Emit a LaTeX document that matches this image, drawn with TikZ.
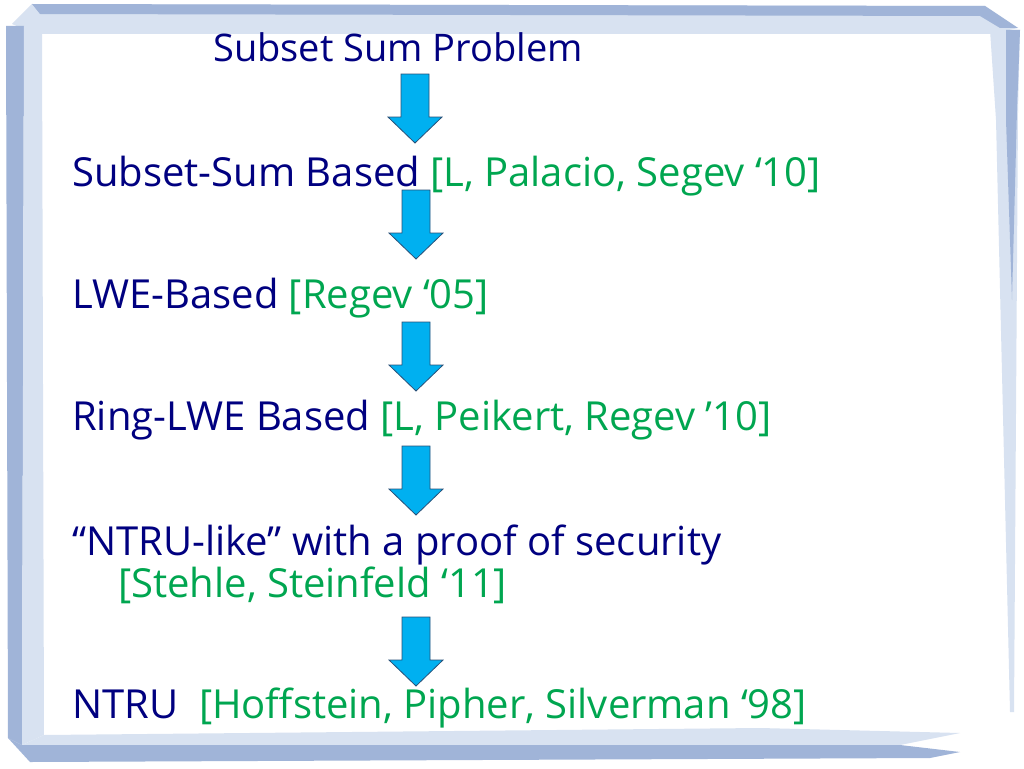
\documentclass[tikz,border=0pt]{standalone}
\usepackage{fontspec}
\setmainfont{Open Sans}
\definecolor{navytext}{RGB}{0,0,128}
\definecolor{citegreen}{RGB}{0,166,80}
\definecolor{arrowfill}{RGB}{0,176,240}
\definecolor{arrowline}{RGB}{40,80,120}
\definecolor{framedark}{RGB}{160,180,216}
\definecolor{framelight}{RGB}{216,226,241}
\tikzset{
  line/.style={anchor=base west, inner sep=0pt, text=navytext, font=\fontsize{40}{46}\selectfont},
  cite/.style={text=citegreen},
  downarrow/.style={fill=arrowfill, draw=arrowline, line width=0.8pt, line join=miter}
}
\newcommand{\blockarrow}[1]{%
  \draw[downarrow] ([xshift=-14pt]#1) -- ([xshift=14pt]#1) -- ([xshift=14pt,yshift=-43pt]#1)
    -- ([xshift=27pt,yshift=-43pt]#1) -- ([yshift=-69pt]#1) -- ([xshift=-27pt,yshift=-43pt]#1)
    -- ([xshift=-14pt,yshift=-43pt]#1) -- cycle;}
\begin{document}
\begin{tikzpicture}[x=1pt,y=-1pt]
\useasboundingbox (0,0) rectangle (1024,768);
\fill[white] (0,0) rectangle (1024,768);

% Hand-drawn frame round the slide
\fill[framelight] (12,24) -- (32,4) -- (985,6) -- (1018,28) -- (990,34) -- (36,34) -- cycle;
\fill[framedark] (32,4) -- (985,6) -- (1018,28) -- (1000,28) -- (980,16) -- (40,14) -- cycle;
\fill[framedark] (6,26) -- (24,26) -- (22,745) -- (8,738) -- cycle;
\fill[framelight] (24,26) -- (42,34) -- (44,735) -- (22,745) -- cycle;
\fill[framelight] (990,30) -- (1020,30) -- (1018,110) -- (1014,712) -- (1010,712) -- (996,120) -- cycle;
\fill[framedark] (1006,30) -- (1020,30) -- (1017,110) -- (1012,300) -- (1006,120) -- cycle;
\fill[framelight] (22,745) -- (44,735) -- (760,728) -- (960,733) -- (900,745) -- cycle;
\fill[framedark] (8,738) -- (22,745) -- (900,745) -- (960,752) -- (930,758) -- (30,762) -- cycle;

% Text of the slide
\node[line, font=\fontsize{38}{44}\selectfont] (ssp) at (213,62) {Subset Sum Problem};
\node[line] (ssb) at (72,186) {Subset-Sum Based \textcolor{citegreen}{[L, Palacio, Segev ‘10]}};
\node[line] (lwe) at (72,308) {LWE-Based \textcolor{citegreen}{[Regev ‘05]}};
\node[line] (rlwe) at (72,430) {Ring-LWE Based \textcolor{citegreen}{[L, Peikert, Regev ’10]}};
\node[line] (ntrulike) at (72,555) {“NTRU-like” with a proof of security};
\node[line, cite] (ntrucite) at (118,597) {[Stehle, Steinfeld ‘11]};
\node[line] (ntru) at (72,718) {NTRU\ \ \textcolor{citegreen}{[Hoffstein, Pipher, Silverman ‘98]}};

% Arrows between the lines
\coordinate (a1) at (415,74);
\coordinate (a2) at (416,190);
\coordinate (a3) at (416,322);
\coordinate (a4) at (416,446);
\coordinate (a5) at (416,617);
\foreach \a in {a1,a2,a3,a4,a5}
  {\blockarrow{\a}}

\end{tikzpicture}
\end{document}
